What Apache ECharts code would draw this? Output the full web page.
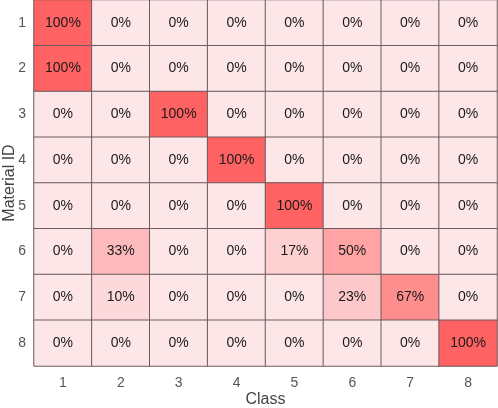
<!DOCTYPE html>
<html>
<head>
<meta charset="utf-8">
<script src="https://cdn.jsdelivr.net/npm/echarts@6/dist/echarts.min.js"></script>
<style>
  html, body { margin: 0; padding: 0; background: #fff; }
  #chart { width: 498px; height: 408px; }
</style>
</head>
<body>
<div id="chart"></div>
<script>
// class labels (x) and material IDs (y)
var classes = ['1', '2', '3', '4', '5', '6', '7', '8'];
var materials = ['1', '2', '3', '4', '5', '6', '7', '8'];

// percentage per material row, one value per class
var row1 = [100, 0, 0, 0, 0, 0, 0, 0];
var row2 = [100, 0, 0, 0, 0, 0, 0, 0];
var row3 = [0, 0, 100, 0, 0, 0, 0, 0];
var row4 = [0, 0, 0, 100, 0, 0, 0, 0];
var row5 = [0, 0, 0, 0, 100, 0, 0, 0];
var row6 = [0, 33, 0, 0, 17, 50, 0, 0];
var row7 = [0, 10, 0, 0, 0, 23, 67, 0];
var row8 = [0, 0, 0, 0, 0, 0, 0, 100];
var rows = [row1, row2, row3, row4, row5, row6, row7, row8];

var cells = [];
rows.forEach(function (r, yi) {
  r.forEach(function (v, xi) {
    cells.push([xi, yi, v]);
  });
});

var myChart = echarts.init(document.getElementById('chart'));
var font = 'Helvetica, "Liberation Sans", Arial, sans-serif';
var option = {
  animation: false,
  textStyle: { fontFamily: font },
  grid: {
    left: 34,
    right: 1,
    top: 0,
    bottom: 42,
    containLabel: false,
    outerBoundsMode: 'none'
  },
  xAxis: {
    type: 'category',
    data: classes,
    name: 'Class',
    nameLocation: 'middle',
    nameGap: 26,
    nameMoveOverlap: false,
    nameTextStyle: { fontSize: 16, color: '#444', fontFamily: font },
    axisLine: { show: false },
    axisTick: { show: false },
    axisLabel: { fontSize: 14, color: '#555', margin: 10 },
    splitArea: { show: false }
  },
  yAxis: {
    type: 'category',
    data: materials,
    inverse: true,
    name: 'Material ID',
    nameLocation: 'middle',
    nameGap: 16,
    nameMoveOverlap: false,
    nameTextStyle: { fontSize: 16, color: '#444', fontFamily: font },
    axisLine: { show: false },
    axisTick: { show: false },
    axisLabel: { fontSize: 14, color: '#555', margin: 8 }
  },
  visualMap: {
    show: false,
    min: 0,
    max: 100,
    dimension: 2,
    inRange: { color: ['#fde6e8', '#fe6262'] }
  },
  series: [{
    type: 'heatmap',
    data: cells,
    label: {
      show: true,
      fontSize: 14,
      color: '#1a1a1a',
      fontFamily: font,
      formatter: function (p) { return p.value[2] + '%'; }
    },
    itemStyle: {
      borderColor: '#6e5a5c',
      borderWidth: 1
    }
  }]
};
myChart.setOption(option);
</script>
</body>
</html>
